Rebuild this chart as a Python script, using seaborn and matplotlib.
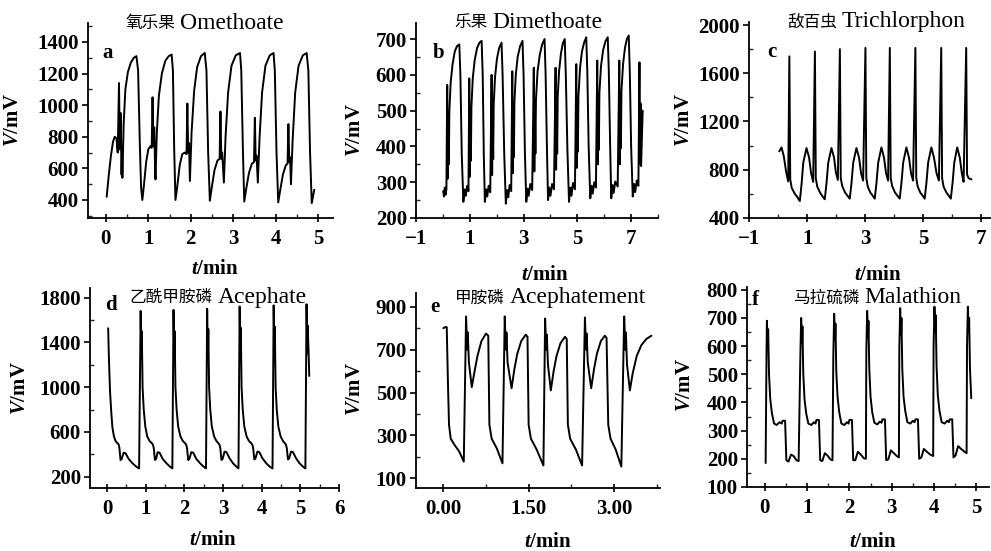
import numpy as np
import pandas as pd
import matplotlib
matplotlib.use("Agg")
import matplotlib.pyplot as plt
from matplotlib.ticker import FixedLocator, MultipleLocator
import seaborn as sns

# ---- data (t in min, V in mV) ----
t_a = [0.02, 0.07, 0.12, 0.17, 0.21, 0.25, 0.28, 0.31, 0.33, 0.35, 0.37, 0.38, 0.39, 0.42, 0.46, 0.52, 0.59, 0.66, 0.72, 0.76, 0.80, 0.83, 0.86,
       0.90, 0.95, 1.00, 1.05, 1.08, 1.10, 1.12, 1.14, 1.16, 1.17, 1.20, 1.25, 1.32, 1.40, 1.48, 1.55, 1.58, 1.61, 1.64,
       1.68, 1.74, 1.80, 1.86, 1.90, 1.92, 1.94, 1.96, 1.98, 2.02, 2.08, 2.15, 2.24, 2.33, 2.37, 2.41, 2.45,
       2.49, 2.56, 2.63, 2.68, 2.70, 2.72, 2.74, 2.78, 2.82, 2.88, 2.96, 3.06, 3.16, 3.19, 3.23, 3.26,
       3.30, 3.37, 3.44, 3.49, 3.51, 3.53, 3.55, 3.58, 3.62, 3.68, 3.76, 3.86, 3.95, 3.98, 4.02, 4.06,
       4.10, 4.17, 4.24, 4.28, 4.30, 4.32, 4.34, 4.36, 4.40, 4.46, 4.54, 4.64, 4.73, 4.77, 4.81, 4.85, 4.91]
v_a = [420, 560, 680, 770, 800, 790, 700, 1140, 720, 950, 560, 690, 540, 880, 1100, 1210, 1270, 1300, 1310, 1220, 760, 480, 400,
       500, 640, 720, 740, 730, 1050, 740, 860, 600, 530, 820, 1060, 1200, 1280, 1310, 1320, 1220, 720, 400,
       480, 620, 690, 700, 690, 1010, 700, 760, 520, 830, 1090, 1240, 1310, 1330, 1220, 700, 395,
       470, 590, 650, 660, 960, 660, 700, 510, 800, 1080, 1250, 1315, 1330, 1220, 700, 390,
       460, 570, 630, 640, 920, 650, 680, 510, 790, 1080, 1250, 1315, 1330, 1220, 700, 385,
       450, 560, 620, 630, 880, 640, 670, 500, 780, 1080, 1250, 1315, 1330, 1220, 700, 380, 465]

t_b = [0.01, 0.04, 0.07, 0.10, 0.13, 0.16, 0.18, 0.20, 0.22, 0.24, 0.29, 0.36, 0.44, 0.52, 0.61, 0.65, 0.70, 0.76,
       0.81, 0.85, 0.90, 0.95, 0.98, 1.00, 1.02, 1.04, 1.06, 1.11, 1.18, 1.27, 1.36, 1.44, 1.48, 1.52, 1.56,
       1.61, 1.65, 1.70, 1.76, 1.81, 1.83, 1.85, 1.87, 1.89, 1.94, 2.01, 2.09, 2.18, 2.22, 2.28, 2.34,
       2.39, 2.43, 2.48, 2.54, 2.58, 2.60, 2.62, 2.64, 2.66, 2.71, 2.78, 2.87, 2.96, 3.00, 3.05, 3.10,
       3.15, 3.19, 3.25, 3.32, 3.38, 3.40, 3.42, 3.44, 3.46, 3.52, 3.60, 3.69, 3.78, 3.82, 3.87, 3.91,
       3.96, 4.00, 4.06, 4.13, 4.19, 4.21, 4.23, 4.25, 4.27, 4.32, 4.39, 4.46, 4.53, 4.57, 4.63, 4.69,
       4.74, 4.78, 4.84, 4.91, 4.96, 4.98, 5.00, 5.02, 5.04, 5.10, 5.17, 5.25, 5.33, 5.37, 5.42, 5.48,
       5.53, 5.57, 5.63, 5.69, 5.74, 5.76, 5.78, 5.80, 5.82, 5.88, 5.96, 6.05, 6.13, 6.17, 6.22, 6.26,
       6.31, 6.35, 6.41, 6.50, 6.56, 6.58, 6.60, 6.62, 6.64, 6.70, 6.77, 6.84, 6.91, 6.95, 7.00, 7.06,
       7.11, 7.15, 7.21, 7.27, 7.31, 7.33, 7.35, 7.37, 7.40, 7.43]
v_b = [275, 260, 285, 265, 280, 572, 310, 460, 350, 500, 580, 630, 665, 680, 685, 600, 380, 245,
       280, 262, 290, 275, 590, 315, 470, 360, 510, 590, 640, 675, 690, 695, 600, 380, 245,
       280, 260, 290, 272, 600, 320, 480, 365, 520, 595, 645, 675, 690, 600, 380, 240,
       278, 258, 292, 275, 610, 325, 490, 370, 525, 600, 650, 680, 695, 600, 380, 245,
       282, 262, 295, 278, 620, 330, 500, 380, 530, 610, 655, 685, 700, 600, 390, 250,
       285, 262, 295, 280, 620, 335, 500, 380, 540, 610, 660, 688, 700, 600, 390, 245,
       285, 262, 298, 280, 630, 340, 510, 385, 540, 620, 665, 690, 705, 610, 400, 255,
       290, 268, 300, 285, 640, 350, 510, 390, 550, 625, 670, 695, 705, 610, 400, 255,
       292, 270, 302, 288, 640, 350, 520, 395, 555, 630, 675, 700, 710, 610, 400, 260,
       295, 272, 305, 290, 635, 350, 520, 345, 420, 500]

t_c = [0.04, 0.12, 0.20, 0.28, 0.35, 0.39, 0.42, 0.47, 0.58, 0.66, 0.75, 0.81, 0.87, 0.98, 1.07, 1.14, 1.21,
       1.27, 1.30, 1.35, 1.45, 1.53, 1.61, 1.67, 1.73, 1.84, 1.93, 1.99, 2.06,
       2.13, 2.16, 2.21, 2.31, 2.39, 2.47, 2.53, 2.59, 2.70, 2.79, 2.86, 2.93,
       3.01, 3.04, 3.09, 3.18, 3.26, 3.33, 3.39, 3.45, 3.56, 3.65, 3.72, 3.79,
       3.85, 3.88, 3.93, 4.03, 4.11, 4.19, 4.25, 4.31, 4.42, 4.51, 4.58, 4.65,
       4.73, 4.76, 4.81, 4.90, 4.98, 5.05, 5.11, 5.17, 5.28, 5.37, 5.46, 5.54,
       5.62, 5.65, 5.70, 5.80, 5.88, 5.95, 6.01, 6.07, 6.17, 6.26, 6.33, 6.39,
       6.48, 6.51, 6.56, 6.66]
v_c = [952, 985, 910, 780, 703, 1740, 720, 650, 600, 575, 540, 680, 860, 980, 900, 770, 700,
       1780, 730, 660, 610, 580, 555, 690, 860, 980, 900, 780, 715,
       1800, 730, 665, 610, 585, 560, 690, 860, 980, 900, 770, 710,
       1810, 730, 660, 610, 585, 560, 690, 860, 985, 900, 770, 710,
       1810, 730, 665, 610, 585, 560, 690, 860, 985, 900, 770, 710,
       1810, 730, 660, 610, 585, 560, 690, 860, 985, 900, 770, 710,
       1810, 730, 660, 610, 585, 560, 690, 860, 985, 900, 770, 700,
       1810, 760, 730, 720]

t_d = [0.03, 0.05, 0.08, 0.11, 0.14, 0.18, 0.22, 0.27, 0.30, 0.32, 0.35, 0.38, 0.43, 0.48, 0.56, 0.66, 0.76, 0.83,
       0.87, 0.89, 0.90, 0.92, 0.95, 0.99, 1.04, 1.10, 1.16, 1.19, 1.21, 1.24, 1.27, 1.31, 1.36, 1.44, 1.54, 1.63, 1.69,
       1.72, 1.74, 1.75, 1.77, 1.80, 1.84, 1.90, 1.96, 2.02, 2.05, 2.07, 2.10, 2.13, 2.18, 2.23, 2.31, 2.41, 2.50, 2.56,
       2.59, 2.61, 2.62, 2.64, 2.67, 2.71, 2.77, 2.83, 2.88, 2.91, 2.93, 2.96, 2.99, 3.04, 3.09, 3.17, 3.26, 3.35, 3.40,
       3.43, 3.45, 3.46, 3.48, 3.51, 3.55, 3.61, 3.67, 3.73, 3.76, 3.78, 3.81, 3.84, 3.89, 3.94, 4.02, 4.12, 4.21, 4.28,
       4.31, 4.33, 4.34, 4.36, 4.39, 4.43, 4.49, 4.55, 4.60, 4.63, 4.65, 4.68, 4.71, 4.76, 4.81, 4.89, 4.98, 5.07, 5.13,
       5.16, 5.18, 5.19, 5.21, 5.23]
v_d = [1526, 1250, 950, 780, 640, 560, 520, 500, 490, 460, 350, 360, 415, 410, 360, 320, 290, 275,
       1680, 1250, 1500, 1000, 800, 650, 560, 520, 500, 485, 455, 350, 360, 420, 415, 360, 320, 290, 275,
       1690, 1260, 1500, 1000, 800, 650, 560, 520, 500, 485, 455, 350, 360, 420, 415, 360, 320, 290, 275,
       1700, 1260, 1520, 1000, 800, 650, 560, 520, 500, 485, 455, 350, 360, 425, 420, 365, 320, 290, 275,
       1720, 1280, 1530, 1000, 800, 650, 560, 520, 500, 485, 455, 355, 365, 425, 420, 365, 320, 290, 275,
       1730, 1280, 1540, 1000, 800, 650, 560, 520, 500, 485, 455, 355, 365, 425, 420, 365, 320, 290, 275,
       1740, 1300, 1550, 1350, 1100]

t_e = [0.00, 0.03, 0.06, 0.08, 0.10, 0.13, 0.20, 0.28, 0.36,
       0.40, 0.42, 0.43, 0.45, 0.50, 0.55, 0.60, 0.67, 0.75, 0.79, 0.81, 0.85, 0.94, 1.04,
       1.08, 1.10, 1.11, 1.13, 1.20, 1.25, 1.30, 1.37, 1.45, 1.48, 1.50, 1.54, 1.64, 1.76,
       1.79, 1.81, 1.82, 1.84, 1.89, 1.94, 1.99, 2.06, 2.14, 2.17, 2.19, 2.23, 2.33, 2.44,
       2.49, 2.51, 2.52, 2.54, 2.60, 2.65, 2.70, 2.77, 2.84, 2.87, 2.90, 2.94, 3.03, 3.13,
       3.18, 3.20, 3.21, 3.23, 3.28, 3.33, 3.40, 3.48, 3.57, 3.66]
v_e = [800, 805, 805, 560, 350, 285, 255, 225, 178,
       855, 700, 780, 640, 525, 600, 670, 740, 775, 765, 350, 285, 240, 170,
       855, 700, 780, 640, 520, 610, 680, 740, 770, 760, 350, 285, 235, 160,
       845, 700, 770, 630, 510, 600, 670, 730, 760, 750, 350, 285, 235, 160,
       850, 700, 775, 640, 520, 610, 680, 740, 765, 755, 350, 285, 235, 155,
       855, 700, 780, 630, 510, 590, 670, 720, 750, 765]

t_f = [0.02, 0.04, 0.05, 0.07, 0.08, 0.10, 0.13, 0.17, 0.22, 0.28, 0.35, 0.40, 0.42, 0.48, 0.51, 0.56, 0.62, 0.68, 0.75, 0.80,
       0.84, 0.86, 0.88, 0.89, 0.91, 0.94, 0.98, 1.03, 1.10, 1.16, 1.20, 1.22, 1.28, 1.31, 1.36, 1.42, 1.48, 1.55, 1.60,
       1.62, 1.64, 1.66, 1.67, 1.69, 1.72, 1.76, 1.81, 1.88, 1.94, 1.98, 2.00, 2.06, 2.09, 2.14, 2.20, 2.27, 2.34, 2.39,
       2.40, 2.42, 2.44, 2.45, 2.47, 2.50, 2.54, 2.59, 2.66, 2.72, 2.76, 2.78, 2.84, 2.87, 2.92, 2.98, 3.05, 3.12, 3.17,
       3.18, 3.20, 3.22, 3.23, 3.25, 3.28, 3.32, 3.37, 3.44, 3.50, 3.54, 3.56, 3.62, 3.65, 3.70, 3.76, 3.83, 3.91, 3.98,
       3.99, 4.01, 4.03, 4.04, 4.06, 4.09, 4.13, 4.18, 4.25, 4.31, 4.35, 4.37, 4.43, 4.46, 4.51, 4.57, 4.64, 4.72, 4.77,
       4.78, 4.80, 4.82, 4.83, 4.85, 4.88]
v_f = [185, 560, 690, 600, 660, 500, 410, 360, 325, 320, 330, 325, 335, 335, 195, 190, 215, 210, 195, 192,
       560, 700, 610, 670, 500, 410, 360, 325, 320, 330, 325, 338, 338, 195, 192, 220, 212, 198, 195,
       570, 715, 620, 680, 510, 420, 365, 325, 320, 330, 325, 338, 338, 195, 195, 225, 215, 202, 200,
       580, 725, 630, 690, 520, 420, 365, 328, 322, 332, 328, 340, 340, 195, 198, 230, 220, 210, 205,
       590, 735, 640, 700, 520, 420, 370, 330, 325, 335, 330, 340, 340, 200, 205, 235, 225, 215, 210,
       600, 740, 650, 710, 530, 425, 370, 330, 325, 335, 330, 340, 340, 205, 212, 245, 235, 225, 220,
       600, 740, 650, 700, 520, 415]

titles_cn = ["氧乐果", "乐果", "敌百虫", "乙酰甲胺磷", "甲胺磷", "马拉硫磷"]
titles_en = ["Omethoate", "Dimethoate", "Trichlorphon", "Acephate", "Acephatement", "Malathion"]
letters = ["a", "b", "c", "d", "e", "f"]
xticks = [[0, 1, 2, 3, 4, 5], [-1, 1, 3, 5, 7], [-1, 1, 3, 5, 7],
          [0, 1, 2, 3, 4, 5, 6], [0.0, 1.5, 3.0], [0, 1, 2, 3, 4, 5]]
xticklabels = [None, None, None, None, ["0.00", "1.50", "3.00"], None]
yticks = [[400, 600, 800, 1000, 1200, 1400], [200, 300, 400, 500, 600, 700],
          [400, 800, 1200, 1600, 2000], [200, 600, 1000, 1400, 1800],
          [100, 300, 500, 700, 900], [100, 200, 300, 400, 500, 600, 700, 800]]

series = [(t_a, v_a), (t_b, v_b), (t_c, v_c), (t_d, v_d), (t_e, v_e), (t_f, v_f)]

# ---- layout (figure fractions) ----
rects = [(0.0888, 0.6044, 0.2472, 0.3539), (0.4198, 0.6044, 0.2442, 0.3539), (0.7558, 0.6044, 0.2432, 0.3557),
         (0.0908, 0.1143, 0.2513, 0.3630), (0.4198, 0.1143, 0.2462, 0.3539), (0.7538, 0.1162, 0.2442, 0.3630)]
xlims = [(-0.42, 5.35), (-1, 8), (-1, 7.3), (-0.44, 6.0), (-0.48, 3.81), (-0.42, 5.3)]
ylims = [(286, 1520), (200, 745), (400, 2025), (100, 1885), (55, 964), (100, 810)]
xminor = [0.5, 1, 1, 0.5, 0.75, 0.5]
yminor = [100, 50, 200, 200, 100, 50]
title_anchor = [(0.365, 0.995), (0.304, 1.0), (0.374, 1.0), (0.504, 0.955), (0.375, 0.975), (0.473, 0.945)]
letter_pos = [(0.06, 0.846), (0.07, 0.846), (0.074, 0.846), (0.06, 0.915), (0.058, 0.93), (0.02, 0.935)]
ylabel_pos = [(-0.265, 0.5), (-0.21, 0.45), (-0.23, 0.5), (-0.24, 0.5), (-0.21, 0.51), (-0.213, 0.51)]
xlabel_pos = [(0.52, -0.21), (0.533, -0.24), (0.535, -0.24), (0.495, -0.21), (0.54, -0.226), (0.52, -0.225)]

sns.set_theme(style="ticks")
plt.rcParams["font.family"] = ["Liberation Serif", "Noto Sans CJK SC"]
plt.rcParams["mathtext.fontset"] = "custom"
plt.rcParams["mathtext.it"] = "Liberation Serif:italic:bold"
plt.rcParams["mathtext.rm"] = "Liberation Serif:bold"

fig = plt.figure(figsize=(9.91, 5.51), dpi=100)

for i in range(6):
    ax = fig.add_axes(rects[i])
    t, v = series[i]
    df = pd.DataFrame({"t": t, "V": v})
    sns.lineplot(data=df, x="t", y="V", ax=ax, color="black", linewidth=1.4,
                 sort=False, estimator=None)
    ax.set_xlim(*xlims[i])
    ax.set_ylim(*ylims[i])
    ax.xaxis.set_major_locator(FixedLocator(xticks[i]))
    if xticklabels[i] is not None:
        ax.set_xticklabels(xticklabels[i])
    ax.yaxis.set_major_locator(FixedLocator(yticks[i]))
    ax.xaxis.set_minor_locator(MultipleLocator(xminor[i]))
    ax.yaxis.set_minor_locator(MultipleLocator(yminor[i]))
    for side in ["top", "right"]:
        ax.spines[side].set_visible(False)
    for side in ["left", "bottom"]:
        ax.spines[side].set_linewidth(1.3)
        ax.spines[side].set_color("black")
    ax.tick_params(axis="x", which="major", direction="inout", length=6, width=1.2, pad=5,
                   labelsize=15, colors="black")
    ax.tick_params(axis="x", which="minor", direction="in", length=3, width=1)
    ax.tick_params(axis="y", which="major", direction="out", length=4, width=1.2, pad=2.5,
                   labelsize=15, colors="black")
    ax.tick_params(axis="y", which="minor", direction="in", length=3, width=1)
    for lab in ax.get_xticklabels() + ax.get_yticklabels():
        lab.set_fontweight("bold")

    ax.set_xlabel(r"$t$/min", fontsize=15, fontweight="bold", color="black")
    ax.set_ylabel(r"$V$/mV", fontsize=15, fontweight="bold", color="black")
    ax.xaxis.set_label_coords(*xlabel_pos[i])
    ax.yaxis.set_label_coords(*ylabel_pos[i])

    tx, ty = title_anchor[i]
    ax.text(tx - 0.01, ty, titles_cn[i], transform=ax.transAxes, ha="right", va="center",
            fontsize=12, family="Noto Sans CJK SC", color="black")
    ax.text(tx + 0.01, ty, titles_en[i], transform=ax.transAxes, ha="left", va="center",
            fontsize=17, color="black")
    lx, ly = letter_pos[i]
    ax.text(lx, ly, letters[i], transform=ax.transAxes, ha="left", va="center",
            fontsize=15, fontweight="bold", color="black")

fig.savefig("out.png", dpi=100)
